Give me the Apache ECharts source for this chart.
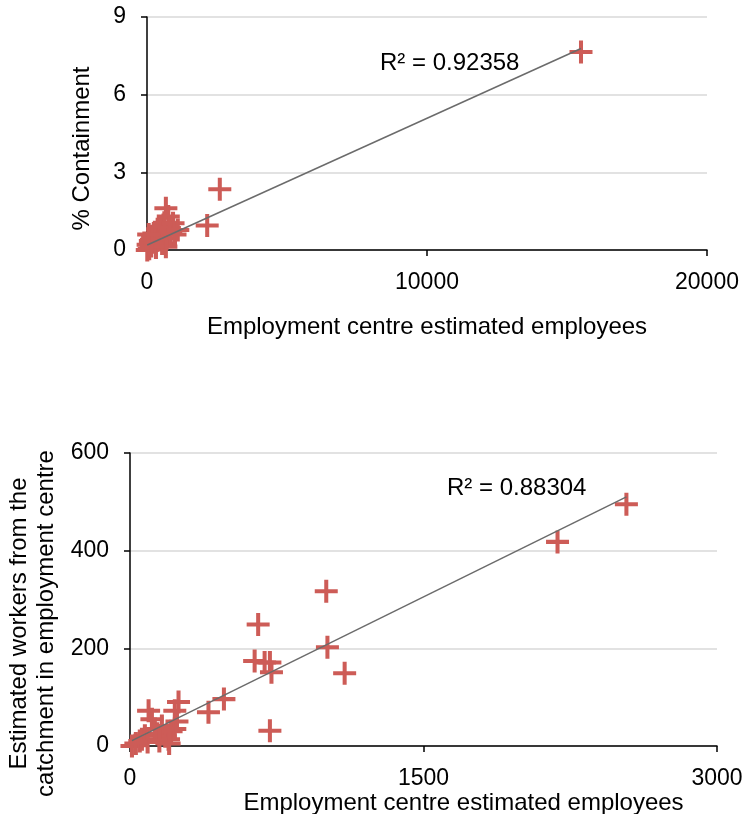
<!DOCTYPE html>
<html><head><meta charset="utf-8">
<script src="https://cdn.jsdelivr.net/npm/echarts@6/dist/echarts.min.js"></script>
<style>html,body{margin:0;padding:0;background:#fff}#c{width:746px;height:814px}</style>
</head><body><div id="c"></div>
<script>
// Top chart: employees vs % containment
const topX = [10, 40, 80, 120, 150, 200, 244, 280, 320, 380, 417, 450, 500, 540, 588, 620, 674, 674, 700, 760, 800, 850, 930, 1000, 1100, 160, 60, 2150, 2600, 15500];
const topY = [0.0, 0.2, 0.05, 0.35, 0.15, 0.5, 0.64, 0.3, 0.1, 0.8, 0.39, 0.55, 0.9, 0.25, 0.97, 1.05, 1.61, 0.13, 0.45, 1.29, 0.85, 0.7, 1.03, 0.6, 0.77, 0.4, 0.6, 0.95, 2.35, 7.65];
const topTrend = { intercept: 0.19, slope: 0.00049 };
const topR2 = "R² = 0.92358";
// Bottom chart: employees vs estimated workers from catchment
const botX = [10, 30, 50, 61, 76, 90, 112, 95, 127, 140, 163, 180, 197, 210, 229, 229, 248, 240, 150, 200, 401, 480, 637, 655, 688, 715, 723, 715, 1003, 1009, 1097, 2185, 2537];
const botY = [0, 5, 10, 14, 21, 8, 55, 72, 35, 25, 41, 20, 14, 30, 35, 72, 90, 50, 10, 5, 69, 96, 174, 249, 171, 171, 151, 31, 317, 202, 149, 418, 495];
const botTrend = { intercept: 9, slope: 0.1975 };
const botR2 = "R² = 0.88304";
const topXTicks = { min: 0, max: 20000, interval: 10000 };
const topYTicks = { min: 0, max: 9, interval: 3 };
const botXTicks = { min: 0, max: 3000, interval: 1500 };
const botYTicks = { min: 0, max: 600, interval: 200 };
const xTitle = "Employment centre estimated employees";
const topYTitle = "% Containment";
const botYTitle = "Estimated workers from the\ncatchment in employment centre";

const FONT = "Liberation Sans, Arial, sans-serif";
const RED = "#cd5c57";
const PLUS = "path://M8.25,0h3.5v8.25h8.25v3.5h-8.25v8.25h-3.5v-8.25h-8.25v-3.5h8.25z";

function pts(xs, ys) { return xs.map((x, i) => [x, ys[i]]); }
function trend(xs, t) {
  const a = Math.min(...xs), b = Math.max(...xs);
  return [[a, t.intercept + t.slope * a], [b, t.intercept + t.slope * b]];
}
function xAxis(idx, ticks, gap, margin, pad) {
  return {
    type: 'value', gridIndex: idx, min: ticks.min, max: ticks.max, interval: ticks.interval,
    name: xTitle, nameLocation: 'middle', nameGap: gap,
    nameTextStyle: { fontFamily: FONT, fontSize: 24, color: '#000', padding: pad },
    axisLine: { show: true, lineStyle: { color: '#000', width: 1.5 } },
    axisTick: { show: true, length: 6, lineStyle: { color: '#000', width: 1.5 } },
    axisLabel: { fontFamily: FONT, fontSize: 23, color: '#000', margin: margin, formatter: v => String(v) },
    splitLine: { show: false }
  };
}
function yAxis(idx, ticks, name, gap, pad, lh) {
  return {
    type: 'value', gridIndex: idx, min: ticks.min, max: ticks.max, interval: ticks.interval,
    name: name, nameLocation: 'middle', nameGap: gap, nameRotate: 90,
    nameTextStyle: { fontFamily: FONT, fontSize: 24, color: '#000', lineHeight: lh, padding: pad },
    axisLine: { show: true, lineStyle: { color: '#000', width: 1.5 } },
    axisTick: { show: true, length: 6, lineStyle: { color: '#000', width: 1.5 } },
    axisLabel: { fontFamily: FONT, fontSize: 23, color: '#000', margin: 21, formatter: v => String(v) },
    splitLine: { show: true, lineStyle: { color: '#d9d9d9', width: 1.5 } }
  };
}
const chart = echarts.init(document.getElementById('c'));
chart.setOption({
  animation: false,
  backgroundColor: '#fff',
  grid: [
    { left: 147, right: 39, top: 17, height: 233, containLabel: false, outerBoundsMode: 'none' },
    { left: 130, right: 29, top: 453, height: 293, containLabel: false, outerBoundsMode: 'none' }
  ],
  xAxis: [xAxis(0, topXTicks, 65, 21, [0, 0, 0, 0]), xAxis(1, botXTicks, 43, 21, [0, 0, 0, 80])],
  yAxis: [yAxis(0, topYTicks, topYTitle, 51, [0, 30, 0, 0], 28), yAxis(1, botYTicks, botYTitle, 58, [0, 48, 0, 0], 27)],
  series: [
    { type: 'line', xAxisIndex: 0, yAxisIndex: 0, data: trend(topX, topTrend), showSymbol: false, symbol: 'none',
      lineStyle: { color: '#6b6b6b', width: 1.5 }, z: 3 },
    { type: 'scatter', xAxisIndex: 0, yAxisIndex: 0, data: pts(topX, topY), symbol: PLUS, symbolSize: 23,
      itemStyle: { color: RED, opacity: 1 }, z: 2 },
    { type: 'line', xAxisIndex: 1, yAxisIndex: 1, data: trend(botX, botTrend), showSymbol: false, symbol: 'none',
      lineStyle: { color: '#6b6b6b', width: 1.5 }, z: 3 },
    { type: 'scatter', xAxisIndex: 1, yAxisIndex: 1, data: pts(botX, botY), symbol: PLUS, symbolSize: 23,
      itemStyle: { color: RED, opacity: 1 }, z: 2 }
  ],
  graphic: [
    { type: 'text', left: 380, top: 51, style: { text: topR2, fontFamily: FONT, fontSize: 24, fill: '#000' } },
    { type: 'text', left: 447, top: 476, style: { text: botR2, fontFamily: FONT, fontSize: 24, fill: '#000' } }
  ]
});
</script></body></html>
